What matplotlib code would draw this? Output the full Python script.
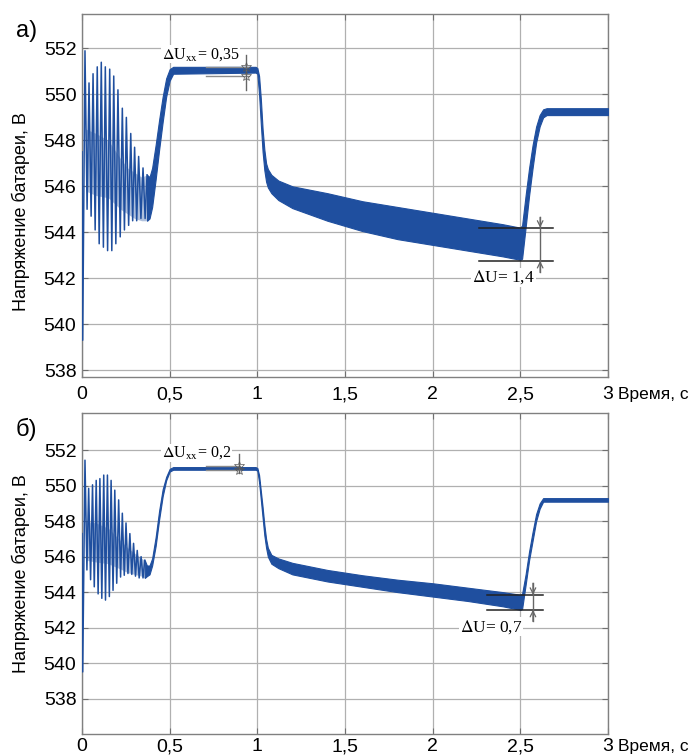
import matplotlib
matplotlib.use("Agg")
import matplotlib.pyplot as plt

plt.rcParams['mathtext.fontset'] = 'stix'
SANS = ['Liberation Sans', 'DejaVu Sans']
SERIF = ['Liberation Serif', 'DejaVu Serif']
BLUE = '#1f4f9f'

# ---------------- data ----------------
x_ticks = [0, 0.5, 1, 1.5, 2, 2.5, 3]
x_tick_labels = ['0', '0,5', '1', '1,5', '2', '2,5', '3']
y_ticks = [538, 540, 542, 544, 546, 548, 550, 552]
y_tick_labels = ['538', '540', '542', '544', '546', '548', '550', '552']

# panel а) start-up oscillation: alternating peaks / troughs
osc_t_a = [0.000, 0.004, 0.017, 0.029, 0.040, 0.052, 0.063, 0.075, 0.087, 0.098,
           0.110, 0.122, 0.133, 0.146, 0.158, 0.170, 0.181, 0.193, 0.205, 0.218,
           0.230, 0.242, 0.253, 0.266, 0.278, 0.289, 0.300, 0.312, 0.323, 0.336,
           0.348, 0.360, 0.371]
osc_v_a = [547.5, 539.3, 551.9, 545.0, 550.5, 544.7, 550.9, 544.1, 551.2, 543.5,
           551.4, 543.35, 551.2, 543.2, 551.1, 543.2, 550.8, 543.5, 550.2, 543.8,
           549.4, 544.1, 549.0, 544.3, 548.3, 544.5, 547.7, 544.5, 547.3, 544.6,
           546.8, 544.6, 546.5]
core_t_a = [0.020, 0.080, 0.150, 0.220, 0.260, 0.300, 0.340, 0.371]
core_lo_a = [545.8, 545.6, 545.5, 545.0, 544.8, 544.6, 544.5, 544.5]
core_hi_a = [548.5, 548.3, 548.0, 547.2, 546.8, 546.6, 546.4, 546.5]

# panel а) ripple band (upper / lower envelope)
band_t_a = [0.371, 0.385, 0.40, 0.42, 0.44, 0.46, 0.48, 0.50, 0.52, 0.99, 1.00, 1.01,
            1.02, 1.03, 1.04, 1.05, 1.06, 1.08, 1.12, 1.20, 1.40, 1.60, 1.80, 2.00,
            2.20, 2.40, 2.50, 2.51, 2.53, 2.55, 2.57, 2.59, 2.61, 2.63, 2.65, 3.00]
band_hi_a = [546.5, 546.4, 546.8, 547.8, 548.9, 549.9, 550.7, 551.1, 551.2, 551.2, 551.15, 550.8,
             549.8, 548.5, 547.6, 547.0, 546.75, 546.5, 546.25, 546.0, 545.7, 545.35, 545.1, 544.85,
             544.6, 544.35, 544.2, 544.3, 545.6, 546.8, 547.8, 548.6, 549.1, 549.35, 549.4, 549.4]
band_lo_a = [544.5, 544.6, 545.1, 546.3, 547.6, 548.8, 549.9, 550.6, 550.9, 550.95, 550.9, 550.0,
             548.7, 547.5, 546.7, 546.2, 545.95, 545.7, 545.4, 545.05, 544.5, 544.05, 543.7, 543.45,
             543.2, 542.95, 542.8, 542.85, 544.2, 545.6, 546.8, 547.9, 548.6, 549.0, 549.1, 549.1]

# panel б) start-up oscillation
osc_t_b = [0.000, 0.004, 0.017, 0.028, 0.038, 0.049, 0.060, 0.070, 0.081, 0.092,
           0.102, 0.113, 0.124, 0.134, 0.145, 0.156, 0.166, 0.177, 0.187, 0.198,
           0.209, 0.220, 0.230, 0.241, 0.251, 0.262, 0.273, 0.284, 0.294, 0.305,
           0.315, 0.326, 0.337, 0.348, 0.358]
osc_v_b = [547.3, 539.5, 551.44, 545.25, 549.85, 544.7, 550.05, 544.3, 550.3, 543.9,
           550.4, 543.65, 550.6, 543.55, 550.6, 543.75, 550.3, 544.1, 549.75, 544.5,
           549.2, 544.85, 548.45, 544.95, 547.9, 545.05, 547.3, 545.0, 546.75, 544.9,
           546.35, 544.8, 546.0, 544.8, 545.8]
core_t_b = [0.020, 0.080, 0.150, 0.220, 0.260, 0.300, 0.340, 0.358]
core_lo_b = [545.8, 545.7, 545.6, 545.3, 545.1, 545.0, 544.9, 544.8]
core_hi_b = [548.0, 547.9, 547.6, 546.9, 546.5, 546.2, 545.9, 545.8]

band_t_b = [0.358, 0.37, 0.385, 0.40, 0.42, 0.44, 0.46, 0.48, 0.50, 0.52, 0.99, 1.00, 1.01,
            1.02, 1.03, 1.04, 1.05, 1.06, 1.08, 1.12, 1.20, 1.40, 1.60, 1.80, 2.00,
            2.20, 2.40, 2.50, 2.51, 2.53, 2.55, 2.57, 2.59, 2.61, 2.63, 2.65, 3.00]
band_hi_b = [545.8, 545.5, 545.5, 545.9, 547.1, 548.6, 549.8, 550.5, 550.95, 551.05, 551.05, 551.0, 550.6,
             549.7, 548.8, 547.8, 547.0, 546.5, 546.1, 545.9, 545.65, 545.25, 544.95, 544.7, 544.5,
             544.25, 544.0, 543.85, 543.9, 545.0, 546.3, 547.4, 548.4, 549.0, 549.3, 549.3, 549.3]
band_lo_b = [544.8, 544.9, 545.0, 545.5, 546.6, 548.1, 549.4, 550.3, 550.8, 550.9, 550.9, 550.85, 550.2,
             549.2, 548.2, 547.2, 546.5, 546.0, 545.6, 545.35, 545.0, 544.6, 544.3, 544.0, 543.75,
             543.5, 543.2, 543.0, 543.05, 544.4, 545.8, 546.9, 548.0, 548.7, 549.1, 549.1, 549.1]

# annotations
dUxx_a = {'text': r'$\Delta$U$_{\rm xx}$= 0,35', 'lo': 550.8, 'hi': 551.2, 't0': 0.71, 't1': 0.95,
          'tv': 0.936, 'v0': 550.2, 'v1': 551.7, 'tx': 0.455, 'ty': 551.75}
dU_a = {'text': r'$\Delta$U= 1,4', 'lo': 542.75, 'hi': 544.2, 't0': 2.265, 't1': 2.685,
        'tv': 2.613, 'v0': 542.25, 'v1': 544.65, 'tx': 2.225, 'ty': 542.05}
dUxx_b = {'text': r'$\Delta$U$_{\rm xx}$= 0,2', 'lo': 550.9, 'hi': 551.1, 't0': 0.71, 't1': 0.90,
          'tv': 0.898, 'v0': 550.7, 'v1': 551.8, 'tx': 0.455, 'ty': 551.85}
dU_b = {'text': r'$\Delta$U= 0,7', 'lo': 543.0, 'hi': 543.85, 't0': 2.31, 't1': 2.63,
        'tv': 2.572, 'v0': 542.35, 'v1': 544.5, 'tx': 2.155, 'ty': 542.05}

ylabel = 'Напряжение батареи, В'
xlabel = 'Время, с'

# ---------------- figure ----------------
fig = plt.figure(figsize=(6.93, 7.55), dpi=100)
ax_a = fig.add_axes([82 / 693, 1 - 377 / 755, 526 / 693, 363 / 755])
ax_b = fig.add_axes([82 / 693, 1 - 734 / 755, 526 / 693, 321 / 755])


def draw(ax, osc_t, osc_v, core_t, core_lo, core_hi, bt, bhi, blo, ylim, ann_xx, ann_u,
         panel, xpad, ylab_y):
    ax.set_xlim(0, 3)
    ax.set_ylim(*ylim)
    ax.set_xticks(x_ticks)
    ax.set_xticklabels(x_tick_labels, fontfamily=SANS, fontsize=14)
    ax.set_yticks(y_ticks)
    ax.set_yticklabels(y_tick_labels, fontfamily=SANS, fontsize=14)
    ax.tick_params(direction='in', right=True, top=True, length=4, width=0.8,
                   color='#707070')
    ax.tick_params(axis='y', pad=4)
    ax.tick_params(axis='x', pad=xpad)
    ax.grid(True, color='#b0b0b0', lw=0.9, zorder=0)
    for s in ax.spines.values():
        s.set_color('#808080')
        s.set_linewidth(1.0)

    ax.fill_between(core_t, core_lo, core_hi, color=BLUE, alpha=0.35, lw=0, zorder=2)
    ax.plot(osc_t, osc_v, color=BLUE, lw=1.1, zorder=3)
    ax.fill_between(bt, blo, bhi, color=BLUE, lw=0.8, edgecolor=BLUE, zorder=3)

    # ΔUxx marker
    for lev in (ann_xx['lo'], ann_xx['hi']):
        ax.plot([ann_xx['t0'], ann_xx['t1']], [lev, lev], color='#8a8a8a', lw=1.0, zorder=4)
        ax.plot([ann_xx['tv']], [lev], marker='*', ms=7, color='#555555', mew=0.5,
                markerfacecolor='none', zorder=5)
    ax.plot([ann_xx['tv'], ann_xx['tv']], [ann_xx['v0'], ann_xx['v1']], color='#666666',
            lw=1.0, zorder=4)
    ax.text(ann_xx['tx'], ann_xx['ty'], ann_xx['text'], fontfamily=SERIF, fontsize=11.5,
            ha='left', va='center', zorder=6,
            bbox=dict(facecolor='white', edgecolor='none', pad=0.5))

    # ΔU marker
    for lev in (ann_u['lo'], ann_u['hi']):
        ax.plot([ann_u['t0'], ann_u['t1']], [lev, lev], color='#222222', lw=1.1, zorder=4)
    ax.plot([ann_u['tv'], ann_u['tv']], [ann_u['v0'], ann_u['v1']], color='#666666',
            lw=1.0, zorder=4)
    ax.annotate('', xy=(ann_u['tv'], ann_u['hi']), xytext=(ann_u['tv'], ann_u['v1']),
                arrowprops=dict(arrowstyle='->', color='#666666', lw=0.9, shrinkA=0, shrinkB=0),
                zorder=5)
    ax.annotate('', xy=(ann_u['tv'], ann_u['lo']), xytext=(ann_u['tv'], ann_u['v0']),
                arrowprops=dict(arrowstyle='->', color='#666666', lw=0.9, shrinkA=0, shrinkB=0),
                zorder=5)
    ax.text(ann_u['tx'], ann_u['ty'], ann_u['text'], fontfamily=SERIF, fontsize=12.5,
            ha='left', va='center', zorder=6,
            bbox=dict(facecolor='white', edgecolor='none', pad=0.5))

    ax.set_ylabel(ylabel, fontfamily=SANS, fontsize=13)
    ax.yaxis.set_label_coords(-52 / 526, ylab_y)
    ax.annotate(xlabel, xy=(1, 0), xycoords='axes fraction', xytext=(7.5, -xpad - 0.5),
                textcoords='offset points', ha='left', va='top',
                fontfamily=SANS, fontsize=12.5)
    ax.annotate(panel, xy=(0, 1), xycoords='axes fraction', xytext=(-40, -12),
                textcoords='offset points', ha='center', va='center',
                fontfamily=SANS, fontsize=17)


draw(ax_a, osc_t_a, osc_v_a, core_t_a, core_lo_a, core_hi_a, band_t_a, band_hi_a, band_lo_a,
     (537.7, 553.5), dUxx_a, dU_a, 'а)', 6.5, 0.455)
draw(ax_b, osc_t_b, osc_v_b, core_t_b, core_lo_b, core_hi_b, band_t_b, band_hi_b, band_lo_b,
     (536.0, 554.1), dUxx_b, dU_b, 'б)', 3.0, 0.5)

fig.savefig('out.png', dpi=100)
